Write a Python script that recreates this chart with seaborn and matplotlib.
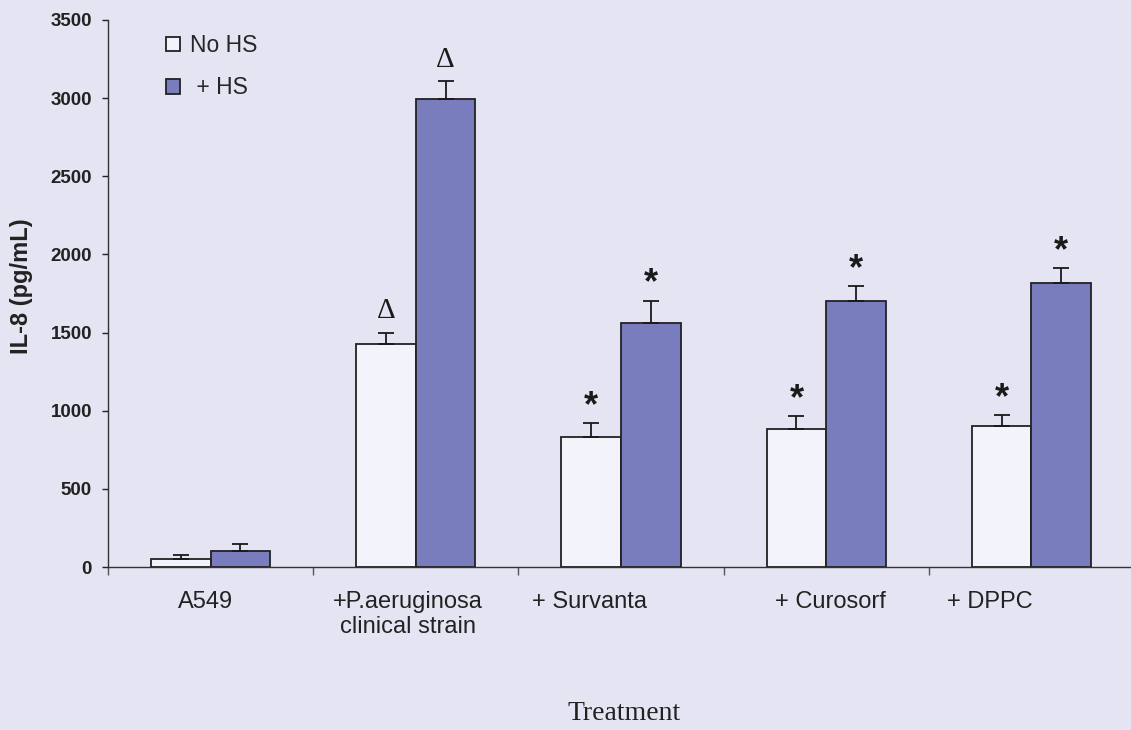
import matplotlib
matplotlib.use("Agg")
import matplotlib.pyplot as plt
import matplotlib.transforms as mtransforms
from matplotlib.patches import Patch
import numpy as np
import pandas as pd
import seaborn as sns

# IL-8 release (pg/mL) per treatment, without / with heat shock
treatments = ["A549", "+P.aeruginosa\nclinical strain", "+ Survanta", "+ Curosorf", "+ DPPC"]
conditions = ["No HS", "+ HS"]
no_hs_mean = [50, 1430, 835, 885, 905]
no_hs_err = [25, 70, 85, 80, 70]
hs_mean = [100, 2995, 1560, 1700, 1820]
hs_err = [50, 115, 145, 95, 90]
# significance marks above each bar
no_hs_mark = ["", "\u0394", "*", "*", "*"]
hs_mark = ["", "\u0394", "*", "*", "*"]
y_ticks = [0, 500, 1000, 1500, 2000, 2500, 3000, 3500]

BG = "#e4e4f3"
WHITE_FILL = "#f3f3fb"
BLUE_FILL = "#7a7dbd"

df = pd.DataFrame({
    "Treatment": treatments * 2,
    "IL8": no_hs_mean + hs_mean,
    "Condition": [conditions[0]] * 5 + [conditions[1]] * 5,
})

sns.set_style("ticks")
plt.rcParams["font.family"] = ["Liberation Sans", "DejaVu Sans"]

fig = plt.figure(figsize=(11.31, 7.30), dpi=100, facecolor=BG)
ax = fig.add_axes([108 / 1131, 1 - 567 / 730, 1026 / 1131, 547 / 730])
ax.set_facecolor(BG)

sns.barplot(data=df, x="Treatment", y="IL8", hue="Condition", order=treatments,
            hue_order=conditions, palette=[WHITE_FILL, BLUE_FILL], width=0.58,
            edgecolor="#222222", linewidth=1.3, errorbar=None, legend=False,
            saturation=1, ax=ax)

# upper error bars and significance marks, placed on the drawn bars
bars = ax.patches
means = no_hs_mean + hs_mean
errs = no_hs_err + hs_err
marks = no_hs_mark + hs_mark
for bar, m, e, mk in zip(bars, means, errs, marks):
    xc = bar.get_x() + bar.get_width() / 2
    ax.errorbar(xc, m, yerr=[[0], [e]], fmt="none", ecolor="#1a1a1a",
                elinewidth=1.3, capsize=5.5, capthick=1.3, zorder=3)
    if mk == "*":
        ax.annotate(mk, (xc, m + e), xytext=(0, 5), textcoords="offset points",
                    ha="center", va="baseline", fontsize=26, fontweight="bold",
                    color="#1a1a1a")
    elif mk:
        ax.annotate(mk, (xc, m + e), xytext=(0, 6), textcoords="offset points",
                    ha="center", va="bottom", fontsize=21,
                    family=["Liberation Serif", "DejaVu Serif"], color="#1a1a1a")

ax.set_xlim(-0.5, 4.5)
ax.set_ylim(0, 3500)
ax.set_yticks(y_ticks)
ax.set_yticklabels([str(v) for v in y_ticks], fontsize=13.5, fontweight="bold")
ax.tick_params(axis="y", length=4.5, width=1, pad=7, colors="#222222")

# category boundaries as ticks, names centred between them
ax.set_xticks(np.arange(-0.5, 5.0, 1.0))
ax.set_xticklabels([])
ax.set_xticks(np.arange(5), minor=True)
ax.set_xticklabels(treatments, minor=True, fontsize=17, color="#222222")
ax.tick_params(axis="x", which="major", length=6, width=1, direction="out", colors="#555555")
ax.tick_params(axis="x", which="minor", length=0, pad=17)
shifts_px = [-5, -8, -31, 4, -42]
for lab, dx in zip(ax.get_xticklabels(minor=True), shifts_px):
    lab.set_transform(lab.get_transform() +
                      mtransforms.ScaledTranslation(dx / 100, 0, fig.dpi_scale_trans))

for s in ["top", "right"]:
    ax.spines[s].set_visible(False)
ax.spines["left"].set_color("#333333")
ax.spines["bottom"].set_color("#333333")
ax.spines["left"].set_linewidth(1.0)
ax.spines["bottom"].set_linewidth(1.0)

ax.set_ylabel("IL-8 (pg/mL)", fontsize=17, fontweight="bold", color="#222222")
ax.yaxis.set_label_coords(-0.073, 0.514)
ax.set_xlabel("Treatment", fontsize=20, family=["Liberation Serif", "DejaVu Serif"],
              color="#222222")
ax.xaxis.set_label_coords(0.503, -0.245)

handles = [Patch(facecolor=WHITE_FILL, edgecolor="#222222", linewidth=1.3),
           Patch(facecolor=BLUE_FILL, edgecolor="#222222", linewidth=1.3)]
fig.legend(handles, ["No HS", " + HS"], loc="upper left",
           bbox_to_anchor=(166 / 1131, 1 - 34 / 730), frameon=False,
           fontsize=16.5, handlelength=0.6, handleheight=0.6, handletextpad=0.45,
           labelspacing=0.85, borderpad=0, borderaxespad=0)

fig.savefig("out.png", dpi=100, facecolor=BG)
